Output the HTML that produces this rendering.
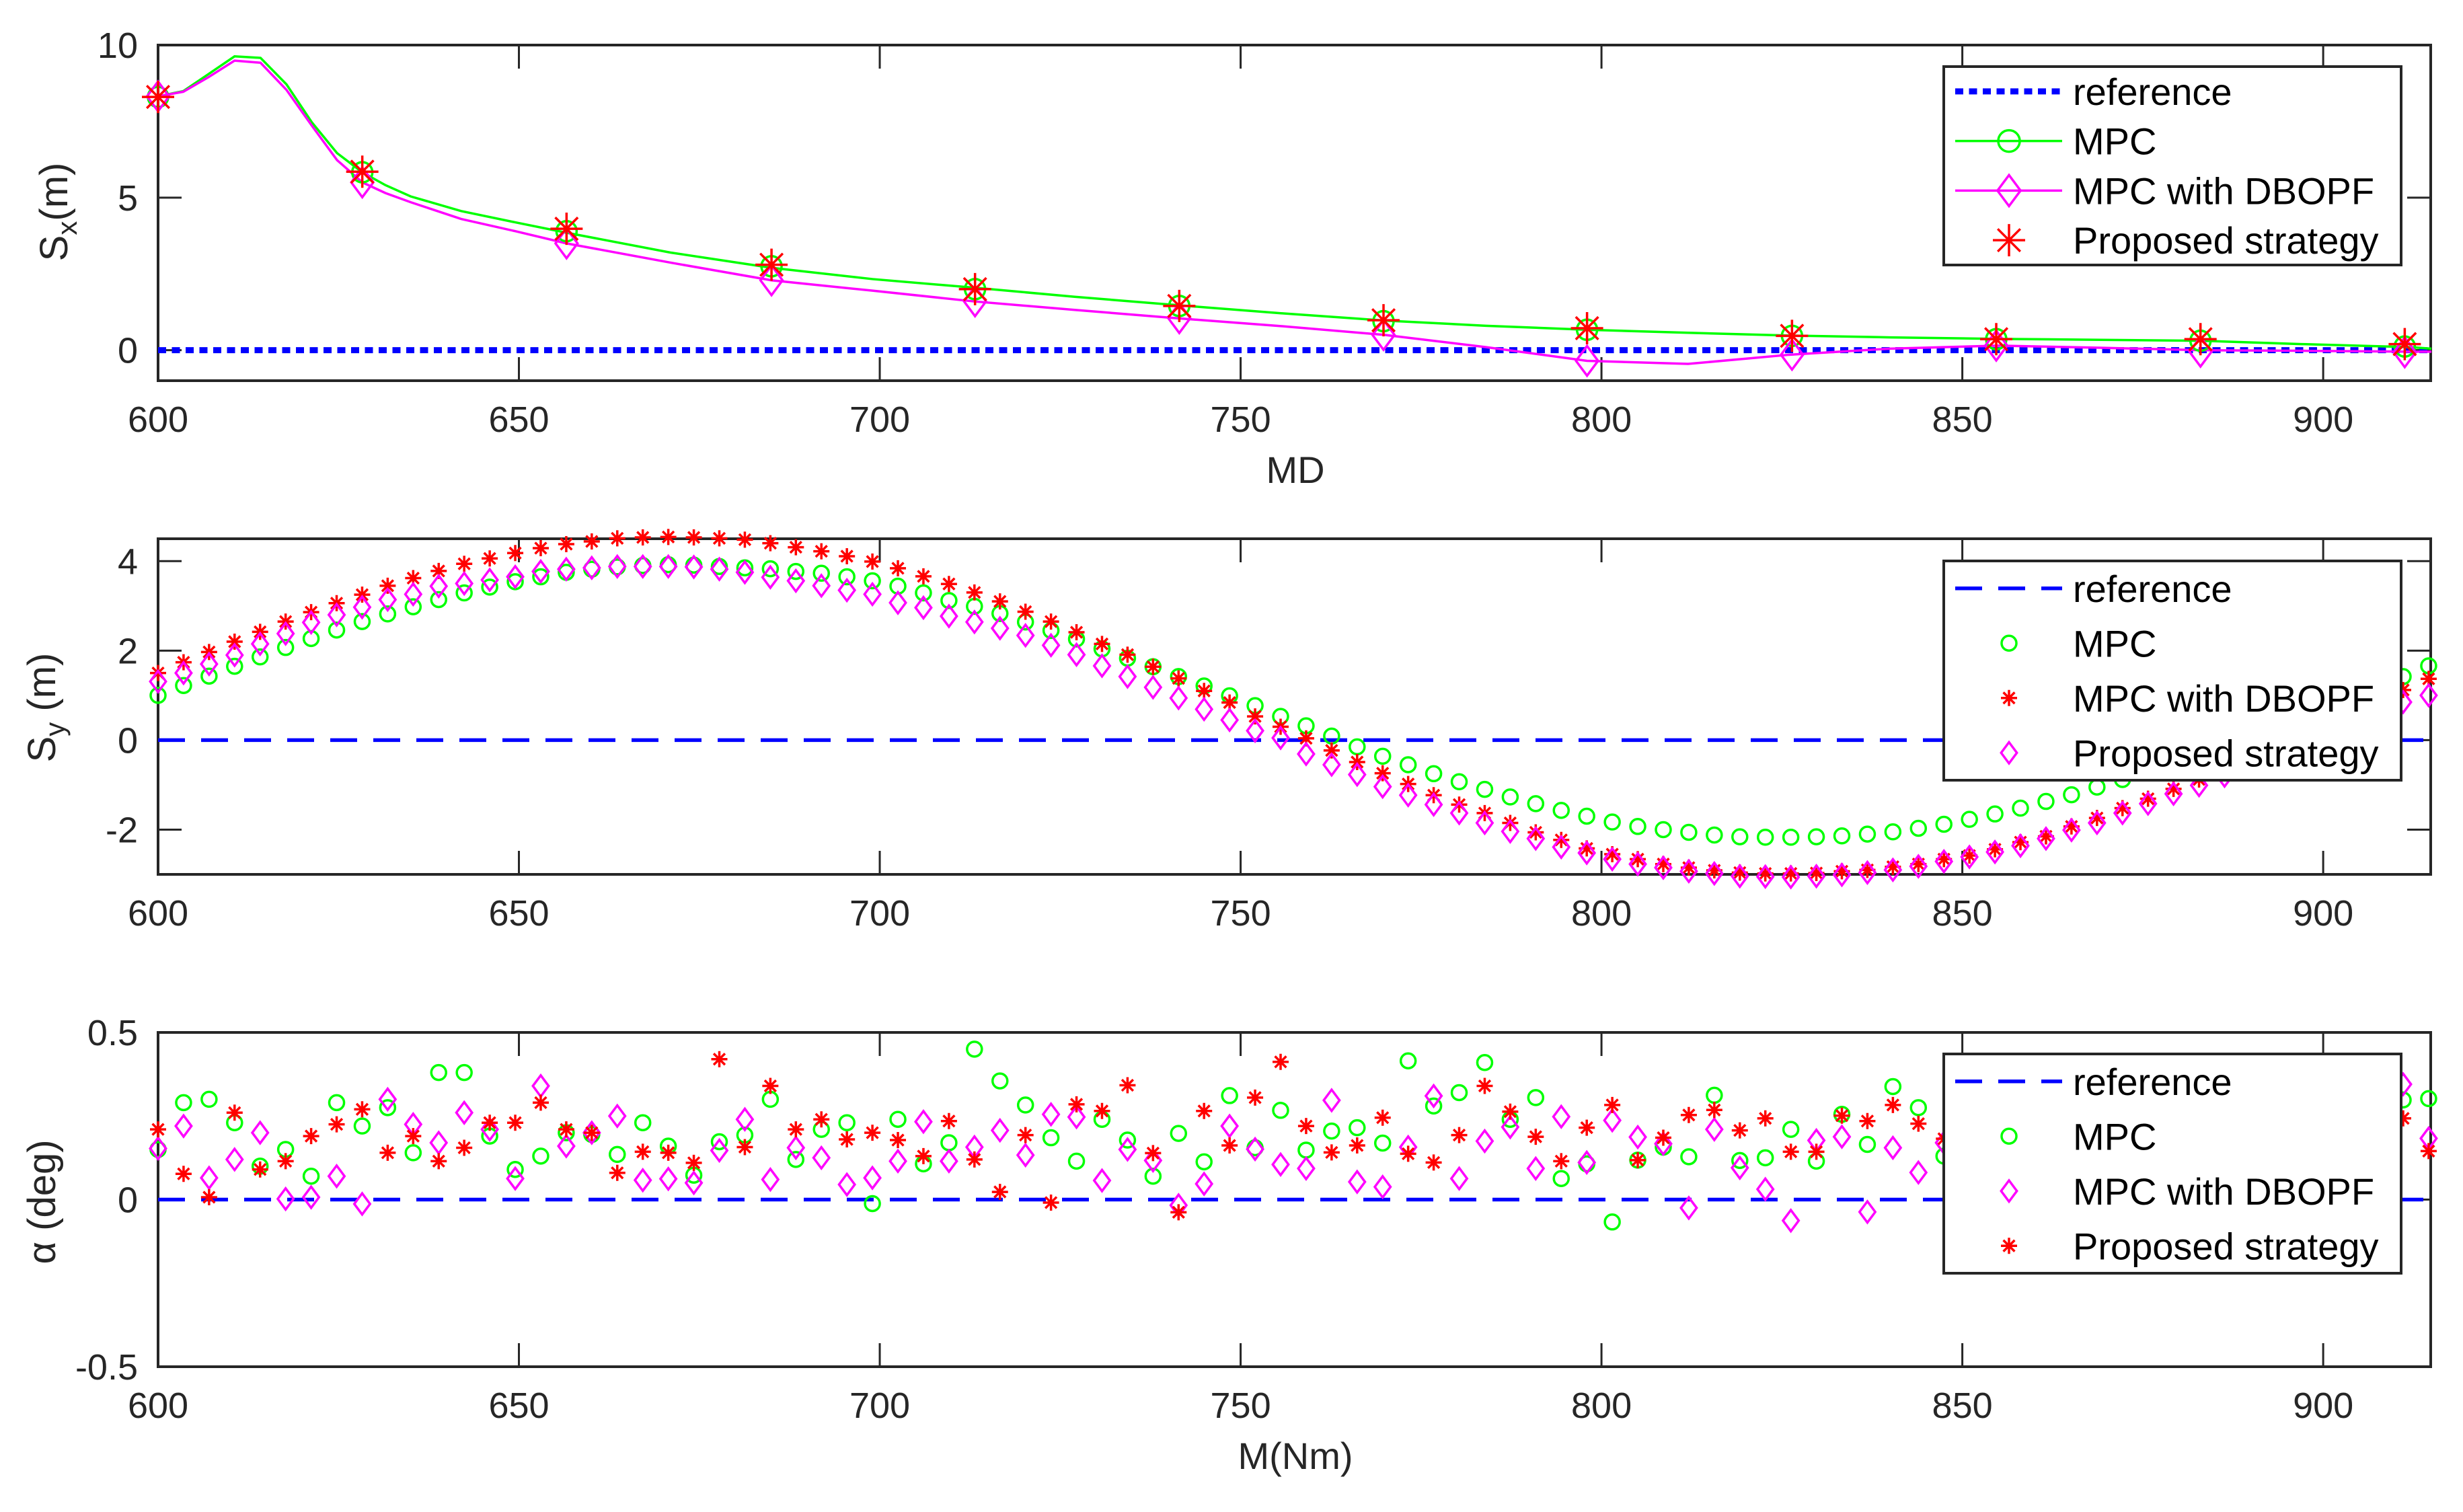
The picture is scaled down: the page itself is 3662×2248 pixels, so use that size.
<!DOCTYPE html>
<html><head><meta charset="utf-8"><title>Sx Sy alpha</title>
<style>
html,body{margin:0;padding:0;background:#fff;}
svg{display:block;font-family:"Liberation Sans",Arial,sans-serif;}
</style></head>
<body>
<svg id="fig" width="3662" height="2248" viewBox="0 0 3662 2248" xmlns="http://www.w3.org/2000/svg">
<rect x="0" y="0" width="3662" height="2248" fill="#fff"/>
</svg>
<script>
// ---------- shared sampling ----------
const xStart = 600;
const xStep = 3.535;
// ---------- subplot 1 data ----------
const sxLineX = [600,603.5,607,610.6,614.2,617.8,621.3,624.8,628.3,631.5,635,642,649.5,656.6,671,685,699,713,727,741,755,770,784,798,812,826,840,855,869,883,897,912,915];
const sxMpcLine = [8.32,8.49,9.05,9.63,9.58,8.71,7.47,6.46,5.83,5.41,5.04,4.56,4.19,3.85,3.2,2.7,2.33,2.05,1.75,1.48,1.22,0.97,0.8,0.67,0.57,0.48,0.42,0.37,0.34,0.31,0.2,0.1,0.05];
const sxDbLine = [8.32,8.47,8.95,9.49,9.42,8.53,7.36,6.23,5.5,5.15,4.85,4.3,3.9,3.5,2.87,2.29,1.95,1.6,1.32,1.05,0.8,0.5,0.1,-0.35,-0.45,-0.15,0.05,0.15,0.08,0.0,-0.02,-0.05,-0.05];
const sxMarkX = [600,628.3,656.6,685,713.2,741.5,769.8,798,826.4,854.7,883,911.3];
const sxMpcMark = [8.3,5.83,3.9,2.75,2.0,1.45,0.95,0.67,0.47,0.36,0.31,0.12];
const sxDbMark = [8.32,5.5,3.5,2.29,1.6,1.05,0.5,-0.35,-0.15,0.15,-0.05,-0.07];
const sxPropMark = [8.3,5.85,3.98,2.8,2.0,1.45,0.98,0.72,0.47,0.36,0.36,0.2];
// ---------- subplot 2 data ----------
const syMpc = [1.0,1.22,1.43,1.65,1.86,2.07,2.27,2.46,2.65,2.82,2.98,3.14,3.29,3.42,3.54,3.65,3.75,3.82,3.87,3.90,3.92,3.91,3.88,3.85,3.83,3.77,3.73,3.65,3.56,3.44,3.29,3.12,2.99,2.83,2.64,2.45,2.26,2.04,1.83,1.64,1.42,1.21,0.99,0.77,0.53,
0.32,0.09,-0.15,-0.36,-0.55,-0.75,-0.93,-1.10,-1.27,-1.42,-1.57,-1.70,-1.83,-1.93,-2.00,-2.06,-2.12,-2.16,-2.17,-2.17,-2.16,-2.14,-2.10,-2.05,-1.97,-1.88,-1.77,-1.65,-1.52,-1.37,-1.22,-1.05,-0.88,-0.68,-0.48,-0.28,-0.08,0.14,0.36,0.58,0.8,1.0,1.2,1.42,1.66];
const syDbopf = [1.50,1.74,1.97,2.20,2.42,2.65,2.86,3.06,3.25,3.45,3.62,3.78,3.94,4.06,4.18,4.29,4.38,4.44,4.51,4.53,4.54,4.53,4.51,4.48,4.40,4.31,4.22,4.11,3.99,3.84,3.66,3.49,3.30,3.10,2.87,2.65,2.41,2.15,1.91,1.64,1.38,1.10,0.84,0.53,0.30,
0.04,-0.23,-0.49,-0.74,-0.98,-1.23,-1.44,-1.63,-1.85,-2.06,-2.23,-2.42,-2.55,-2.66,-2.77,-2.85,-2.91,-2.96,-2.98,-2.98,-2.97,-2.93,-2.90,-2.83,-2.77,-2.66,-2.58,-2.44,-2.28,-2.15,-1.93,-1.74,-1.52,-1.31,-1.09,-0.88,-0.64,-0.40,-0.17,0.05,0.28,0.52,0.80,1.12,1.37];
const syProp = [1.31,1.50,1.70,1.90,2.15,2.38,2.63,2.80,2.97,3.14,3.26,3.44,3.50,3.58,3.65,3.77,3.82,3.85,3.88,3.88,3.88,3.87,3.82,3.75,3.64,3.56,3.45,3.35,3.26,3.07,2.96,2.77,2.64,2.50,2.34,2.12,1.91,1.66,1.42,1.18,0.94,0.69,0.45,0.21,0.05,
-0.31,-0.55,-0.77,-1.04,-1.23,-1.44,-1.63,-1.85,-2.04,-2.20,-2.39,-2.52,-2.66,-2.77,-2.85,-2.93,-2.98,-3.04,-3.05,-3.06,-3.04,-3.01,-2.96,-2.90,-2.82,-2.71,-2.61,-2.50,-2.36,-2.20,-2.01,-1.85,-1.63,-1.42,-1.20,-1.01,-0.80,-0.60,-0.40,-0.20,0.0,0.2,0.45,0.85,1.0];
// ---------- subplot 3 data ----------
const alMpc = [0.15,0.29,0.30,0.23,0.10,0.15,0.07,0.29,0.22,0.275,0.14,0.38,0.38,0.19,0.09,0.13,0.20,0.195,0.135,0.23,0.16,0.073,0.173,0.193,0.30,0.12,0.21,0.23,-0.012,0.24,0.107,
0.17,0.45,0.355,0.283,0.185,0.115,0.24,0.178,0.07,0.198,0.113,0.311,0.155,0.267,0.148,0.205,0.215,0.169,0.415,0.28,0.32,0.41,0.24,0.305,0.063,0.107,-0.067,0.118,0.157,
0.128,0.312,0.117,0.125,0.21,0.115,0.255,0.165,0.338,0.275,0.13,
0.2,0.15,0.25,0.1,0.18,0.22,0.12,0.3,0.16,0.2,0.08,0.24,0.18,0.14,0.26,0.2,0.17,0.298,0.302];
const alDbopf = [0.153,0.22,0.065,0.12,0.20,0.002,0.007,0.07,-0.013,0.30,0.225,0.17,0.26,0.21,0.063,0.34,0.16,0.20,0.25,0.058,0.062,0.05,0.147,0.24,0.06,0.155,0.125,0.045,0.065,0.115,0.233,
0.115,0.157,0.207,0.133,0.255,0.247,0.057,0.15,0.117,-0.017,0.047,0.22,0.151,0.105,0.093,0.297,0.053,0.038,0.157,0.31,0.063,0.175,0.217,0.093,0.248,0.111,0.237,0.187,0.167,
-0.025,0.21,0.095,0.031,-0.063,0.177,0.188,-0.037,0.155,0.081,0.17,
0.1,0.22,0.05,0.18,0.28,0.12,0.0,0.2,0.15,0.07,0.25,0.13,0.19,0.04,0.22,0.16,0.27,0.345,0.183];
const alProp = [0.21,0.077,0.007,0.26,0.09,0.115,0.19,0.225,0.27,0.14,0.19,0.115,0.155,0.23,0.23,0.29,0.21,0.20,0.08,0.143,0.14,0.11,0.42,0.157,0.34,0.21,0.24,0.18,0.20,0.178,0.13,
0.235,0.12,0.023,0.193,-0.009,0.285,0.265,0.342,0.139,-0.038,0.265,0.162,0.305,0.412,0.22,0.141,0.162,0.245,0.137,0.111,0.193,0.34,0.263,0.188,0.115,0.215,0.283,0.118,0.185,
0.253,0.268,0.207,0.243,0.143,0.143,0.251,0.235,0.283,0.227,0.182,
0.2,0.15,0.26,0.12,0.22,0.18,0.3,0.1,0.24,0.19,0.14,0.27,0.16,0.21,0.11,0.23,0.2,0.243,0.145];
// ---------- ticks ----------
const xTicks = [600,650,700,750,800,850,900];
const sxTicks = [0,5,10];
const syTicks = [-2,0,2,4];
const alTicks = [-0.5,0,0.5];
const alTickLabels = ["-0.5","0","0.5"];

const NS = "http://www.w3.org/2000/svg";
const svg = document.getElementById('fig');
const AX = "#262626";
function el(tag, attrs, parent) {
  const e = document.createElementNS(NS, tag);
  for (const k in attrs) e.setAttribute(k, attrs[k]);
  (parent || svg).appendChild(e);
  return e;
}
const L = 235, R = 3614, XMIN = 600, XMAX = 914.9;
function xs(v) { return L + (v - XMIN) * (R - L) / (XMAX - XMIN); }
function mkY(top, bot, lo, hi) { return v => bot - (v - lo) * (bot - top) / (hi - lo); }

function marker(g, type, cx, cy, s, color, name) {
  let m;
  if (type === 'o') {
    m = el('circle', {cx: cx, cy: cy, r: s, fill: 'none', stroke: color, 'stroke-width': 3.5}, g);
  } else if (type === 'd') {
    const w = s * 0.78, h = s * 1.05;
    m = el('polygon', {points: `${cx},${cy-h} ${cx+w},${cy} ${cx},${cy+h} ${cx-w},${cy}`, fill: 'none', stroke: color, 'stroke-width': 3.5}, g);
  } else {
    const a = s, d = s * 0.7;
    m = el('path', {d: `M${cx-a},${cy}H${cx+a}M${cx},${cy-a}V${cy+a}M${cx-d},${cy-d}L${cx+d},${cy+d}M${cx-d},${cy+d}L${cx+d},${cy-d}`, fill: 'none', stroke: color, 'stroke-width': 3.5}, g);
  }
  
  
  return m;
}

function axes(name, top, bot, ys, yTickVals, yTickLabels, xlabel) {
  const g = el('g', {});
  
  
  const fr = el('rect', {x: L, y: top, width: R - L, height: bot - top, fill: 'none', stroke: AX, 'stroke-width': 4}, g);
  
  
  xTicks.forEach(t => {
    const x = xs(t);
    const tk = el('path', {d: `M${x},${bot}V${bot-35}M${x},${top}V${top+35}`, stroke: AX, 'stroke-width': 3}, g);
    
    
    const tx = el('text', {x: x, y: bot + 76, 'text-anchor': 'middle', 'font-size': 54, fill: AX}, g);
    tx.textContent = t;
    
    
  });
  yTickVals.forEach((t, i) => {
    const y = ys(t);
    const tk = el('path', {d: `M${L},${y}H${L+35}M${R},${y}H${R-35}`, stroke: AX, 'stroke-width': 3}, g);
    
    
    const tx = el('text', {x: 205, y: y + 19, 'text-anchor': 'end', 'font-size': 54, fill: AX}, g);
    tx.textContent = yTickLabels[i];
    
    
  });
  if (xlabel) {
    const tx = el('text', {x: 1926, y: bot + 152, 'text-anchor': 'middle', 'font-size': 56, fill: AX}, g);
    tx.textContent = xlabel;
    
    
  }
  return g;
}

function ylabel(name, cx, cy, main, sub, tail) {
  const t = el('text', {x: 0, y: 0, 'text-anchor': 'middle', 'font-size': 58, fill: AX, transform: `translate(${cx},${cy}) rotate(-90)`});
  
  
  const a = el('tspan', {}, t); a.textContent = main;
  if (sub) { const b = el('tspan', {dy: 14, 'font-size': 42}, t); b.textContent = sub;
    const c = el('tspan', {dy: -14}, t); c.textContent = tail; }
}

function legend(name, top, bot, entries) {
  const g = el('g', {});
  
  
  el('rect', {x: 2890, y: top, width: 680, height: bot - top, fill: '#fff', stroke: AX, 'stroke-width': 4}, g);
  const n = entries.length, step = (bot - top) / n;
  entries.forEach((e, i) => {
    const cy = top + step * (i + 0.5);
    const eg = el('g', {}, g);
    
    
    if (e.line) el('line', {x1: 2907, x2: 3066, y1: cy, y2: cy, stroke: e.color, 'stroke-width': e.lw, 'stroke-dasharray': e.dash || ''}, eg);
    if (e.mk) marker(eg, e.mk, 2987, cy, e.ms, e.color, 'legend-marker');
    const tx = el('text', {x: 3082, y: cy + 20, 'font-size': 56, fill: '#000'}, eg);
    tx.textContent = e.label;
  });
}

// ================= Subplot 1 =================
const T1 = 67, B1 = 566;
const y1 = mkY(T1, B1, -1, 10);
axes('sx', T1, B1, y1, sxTicks, ["0","5","10"], 'MD');
ylabel('sx-y-axis-title', 100, 315, 'S', 'x', '(m)');
const ref1 = el('line', {x1: L, x2: R, y1: y1(0), y2: y1(0), stroke: '#0000ff', 'stroke-width': 9, 'stroke-dasharray': '12 8.5'});


function poly(xsArr, ysArr, ysc, color, name, w) {
  const p = el('polyline', {points: xsArr.map((v, i) => `${xs(v)},${ysc(ysArr[i])}`).join(' '), fill: 'none', stroke: color, 'stroke-width': w});
  
  
}
poly(sxLineX, sxMpcLine, y1, '#00ff00', 'sx-mpc-line', 3.5);
poly(sxLineX, sxDbLine, y1, '#ff00ff', 'sx-dbopf-line', 3.5);
const g1 = el('g', {});  
sxMarkX.forEach((x, i) => marker(g1, 'o', xs(x), y1(sxMpcMark[i]), 15, '#00ff00', 'sx-mpc-point'));
sxMarkX.forEach((x, i) => marker(g1, 'd', xs(x), y1(sxDbMark[i]), 21, '#ff00ff', 'sx-dbopf-point'));
sxMarkX.forEach((x, i) => marker(g1, '*', xs(x), y1(sxPropMark[i]), 24, '#ff0000', 'sx-proposed-point'));
legend('sx-legend', 99, 394, [
  {key:'reference', label:'reference', line:true, color:'#0000ff', lw:9, dash:'12 8.5'},
  {key:'mpc', label:'MPC', line:true, color:'#00ff00', lw:3.5, mk:'o', ms:16},
  {key:'dbopf', label:'MPC with DBOPF', line:true, color:'#ff00ff', lw:3.5, mk:'d', ms:22},
  {key:'proposed', label:'Proposed strategy', line:false, color:'#ff0000', mk:'*', ms:24}
]);

// ================= Subplot 2 =================
const T2 = 801, B2 = 1300;
const y2 = mkY(T2, B2, -3, 4.5);
axes('sy', T2, B2, y2, syTicks, ["-2","0","2","4"], null);
ylabel('sy-y-axis-title', 82, 1052, 'S', 'y', ' (m)');
const ref2 = el('line', {x1: L, x2: R, y1: y2(0), y2: y2(0), stroke: '#0000ff', 'stroke-width': 5.5, 'stroke-dasharray': '40 24'});


const g2 = el('g', {});  
syMpc.forEach((v, i) => marker(g2, 'o', xs(xStart + i * xStep), y2(v), 11, '#00ff00', 'sy-mpc-point'));
syDbopf.forEach((v, i) => marker(g2, '*', xs(xStart + i * xStep), y2(v), 12, '#ff0000', 'sy-dbopf-point'));
syProp.forEach((v, i) => marker(g2, 'd', xs(xStart + i * xStep), y2(v), 15, '#ff00ff', 'sy-proposed-point'));
legend('sy-legend', 834, 1160, [
  {key:'reference', label:'reference', line:true, color:'#0000ff', lw:5.5, dash:'40 24'},
  {key:'mpc', label:'MPC', line:false, color:'#00ff00', mk:'o', ms:11},
  {key:'dbopf', label:'MPC with DBOPF', line:false, color:'#ff0000', mk:'*', ms:12},
  {key:'proposed', label:'Proposed strategy', line:false, color:'#ff00ff', mk:'d', ms:15}
]);

// ================= Subplot 3 =================
const T3 = 1535, B3 = 2032;
const y3 = mkY(T3, B3, -0.5, 0.5);
axes('alpha', T3, B3, y3, alTicks, alTickLabels, 'M(Nm)');
ylabel('alpha-y-axis-title', 82, 1787, 'α (deg)', null, null);
const ref3 = el('line', {x1: L, x2: R, y1: y3(0), y2: y3(0), stroke: '#0000ff', 'stroke-width': 5.5, 'stroke-dasharray': '40 24'});


const g3 = el('g', {});  
alMpc.forEach((v, i) => marker(g3, 'o', xs(xStart + i * xStep), y3(v), 11, '#00ff00', 'alpha-mpc-point'));
alDbopf.forEach((v, i) => marker(g3, 'd', xs(xStart + i * xStep), y3(v), 15, '#ff00ff', 'alpha-dbopf-point'));
alProp.forEach((v, i) => marker(g3, '*', xs(xStart + i * xStep), y3(v), 12, '#ff0000', 'alpha-proposed-point'));
legend('alpha-legend', 1567, 1893, [
  {key:'reference', label:'reference', line:true, color:'#0000ff', lw:5.5, dash:'40 24'},
  {key:'mpc', label:'MPC', line:false, color:'#00ff00', mk:'o', ms:11},
  {key:'dbopf', label:'MPC with DBOPF', line:false, color:'#ff00ff', mk:'d', ms:15},
  {key:'proposed', label:'Proposed strategy', line:false, color:'#ff0000', mk:'*', ms:12}
]);
</script>
</body></html>
